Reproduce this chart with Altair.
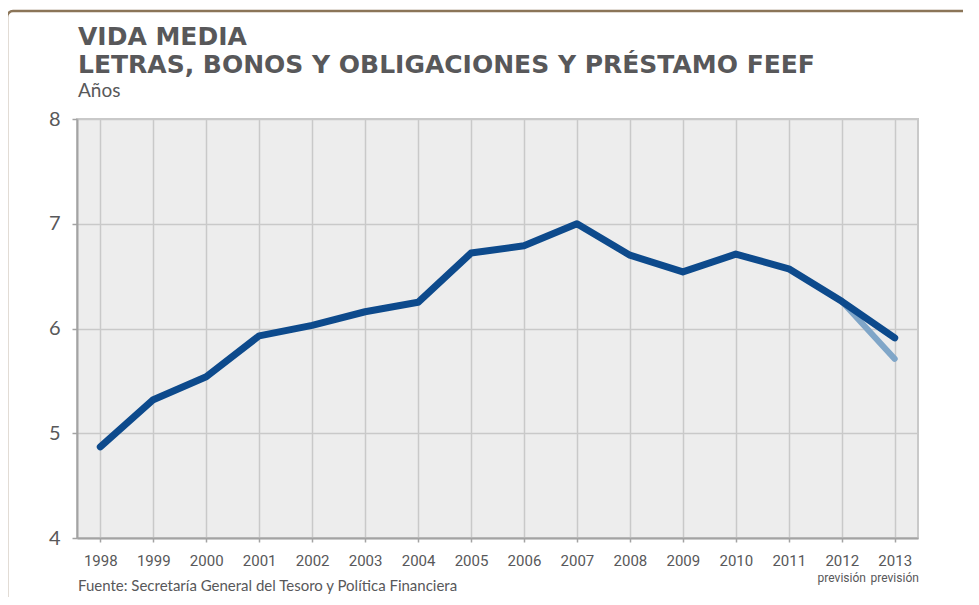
import altair as alt
import pandas as pd

# ---- data ----
years = [1998, 1999, 2000, 2001, 2002, 2003, 2004, 2005,
         2006, 2007, 2008, 2009, 2010, 2011, 2012, 2013]
vida_media = [4.87, 5.32, 5.54, 5.93, 6.03, 6.16, 6.25, 6.72,
              6.79, 7.00, 6.70, 6.54, 6.71, 6.57, 6.26, 5.91]
alt_years = [2012, 2013]
alt_values = [6.26, 5.71]
forecast_years = [2012, 2013]
forecast_label = "previsión"
y_ticks = [4, 5, 6, 7, 8]

title_lines = ["VIDA MEDIA", "LETRAS, BONOS Y OBLIGACIONES Y PRÉSTAMO FEEF"]
subtitle = "Años"
source = "Fuente: Secretaría General del Tesoro y Política Financiera"

main_df = pd.DataFrame({"year": years, "value": vida_media})
alt_df = pd.DataFrame({"year": alt_years, "value": alt_values})
fc_df = pd.DataFrame({"year": forecast_years, "label": [forecast_label] * len(forecast_years)})

SANS = "Lato"
GRAY_TXT = "#58585a"

x_scale = alt.Scale(type="point", padding=0.44, domain=years)
y_scale = alt.Scale(domain=[4, 8], nice=False, zero=False)

x_enc = alt.X(
    "year:O", scale=x_scale, title=None,
    axis=alt.Axis(
        grid=True, gridColor="#c9c9c9", gridWidth=1.5,
        domainColor="#a3a3a3", domainWidth=2,
        tickColor="#a3a3a3", tickWidth=1.5, tickSize=4,
        labelFont="Roboto", labelFontSize=15, labelColor=GRAY_TXT,
        labelPadding=11, labelAngle=0,
    ),
)
y_enc = alt.Y(
    "value:Q", scale=y_scale, title=None,
    axis=alt.Axis(
        values=y_ticks, grid=True, gridColor="#c9c9c9", gridWidth=1.5,
        domainColor="#a3a3a3", domainWidth=2,
        tickColor="#a3a3a3", tickWidth=1.5, tickSize=5,
        labelFont=SANS, labelFontSize=20, labelColor=GRAY_TXT,
        labelPadding=12, format="d",
    ),
)

light_line = alt.Chart(alt_df).mark_line(
    color="#80a6c8", strokeWidth=6, strokeCap="round", strokeJoin="round"
).encode(x=x_enc, y=y_enc)

dark_line = alt.Chart(main_df).mark_line(
    color="#0d4a8c", strokeWidth=7, strokeCap="round", strokeJoin="round"
).encode(x=x_enc, y=y_enc)

prevision = alt.Chart(fc_df).mark_text(
    font="Roboto", fontSize=12, color=GRAY_TXT, baseline="alphabetic", align="center"
).encode(
    x=x_enc,
    y=alt.value(463),
    text="label:N",
)


def text_layer(txt, x, y, size, weight="normal", font=SANS, line_height=None):
    kw = {}
    if line_height is not None:
        kw["lineHeight"] = line_height
    return alt.Chart(pd.DataFrame({"k": [0]})).mark_text(
        font=font, fontSize=size, fontWeight=weight, color=GRAY_TXT,
        align="left", baseline="alphabetic", text=txt, **kw
    ).encode(x=alt.value(x), y=alt.value(y))


t12 = text_layer(title_lines, 1, -74, 25, "bold", font="DejaVu Sans", line_height=27.5)
t3 = text_layer(subtitle, 1, -22, 19)
t4 = text_layer(source, 1, 472, 15)

frame = alt.Chart(pd.DataFrame({"a": [0]})).mark_rect(
    fill="transparent", stroke="#8b7558", strokeWidth=2.5, cornerRadius=6
).encode(
    x=alt.value(-70), x2=alt.value(1000), y=alt.value(-108), y2=alt.value(600)
)

chart = alt.layer(
    frame, light_line, dark_line, prevision, t12, t3, t4
).properties(
    width=841, height=419,
    autosize=alt.AutoSizeParams(type="none"),
    padding={"left": 69, "top": 111, "right": 45, "bottom": 59},
    background="white",
).configure_view(
    fill="#ededed", stroke="#c9c9c9", strokeWidth=2
)

chart.save("out.html", embed_options={"renderer": "svg", "actions": False})
